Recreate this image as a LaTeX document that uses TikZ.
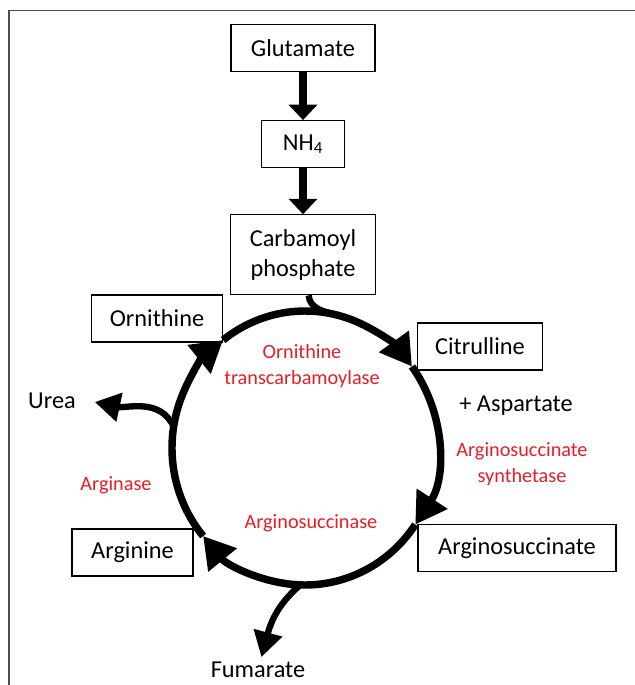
\documentclass[tikz,border=0pt]{standalone}
\usepackage{fontspec}
\setmainfont{Carlito}
\usepackage{tikz}
\usetikzlibrary{positioning,arrows.meta,calc}
\definecolor{enzred}{RGB}{228,30,38}
\tikzset{
  box/.style={rectangle, draw=black!100, line width=0.8pt, minimum height=1.175cm, font=\fontsize{17.3}{21.3}\selectfont},
  metab/.style={font=\fontsize{17.3}{21.3}\selectfont},
  enzyme/.style={text=enzred, align=center, font=\fontsize{14.4}{18.5}\selectfont},
  connect/.style={-{Triangle[width=20pt,length=11pt]}, line width=5pt},
  ring/.style={-{Triangle[width=25pt,length=22pt]}, line width=5.3pt},
  branch/.style={-{Triangle[width=20pt,length=18pt]}, line width=4.5pt}
}

\begin{document}
\begin{tikzpicture}[x=0.025cm, y=0.025cm]
  \useasboundingbox (0,0) rectangle (635,-685);
  \draw[black!70, line width=1.4pt] (9,-685) -- (9,-10.5) -- (635,-10.5);

  \node[box, minimum width=3.6cm] (Glutamate) at (303,-48) {Glutamate};
  \node[box, minimum width=2.075cm] (Ammonium) [below=1.2cm of Glutamate] {NH\textsubscript{4}};
  \node[box, minimum width=3.625cm, minimum height=2cm, align=center] (Carbamoyl) [below=1.15cm of Ammonium] {Carbamoyl\\phosphate};
  \path (Glutamate) edge [connect] (Ammonium);
  \path (Ammonium) edge [connect] (Carbamoyl);

  \node[box, minimum width=3.26cm] (Ornithine) at (157,-318.5) {Ornithine};
  \node[box, minimum width=3.11cm] (Citrulline) at (480,-346.5) {Citrulline};
  \node[box, minimum width=4.95cm] (ArgSucc) at (517,-548) {Arginosuccinate};
  \node[box, minimum width=3.025cm] (Arginine) at (132.5,-552.5) {Arginine};

  \node[metab] (Urea) at (52,-401) {Urea};
  \node[metab] (Aspartate) at (516,-406) {+ Aspartate};
  \node[metab] (Fumarate) at (258,-670) {Fumarate};

  \node[enzyme] (OTC) at (302,-366) {Ornithine\\transcarbamoylase};
  \node[enzyme] (ASS) at (522,-464) {Arginosuccinate\\synthetase};
  \node[enzyme] (ASL) at (311,-523) {Arginosuccinase};
  \node[enzyme] (ARG) at (116,-485) {Arginase};

  % the cycle, clockwise
  \coordinate (Ctr) at (305,-448);
  \draw[ring] (Ctr) ++(220:133 and 137) arc[start angle=220, end angle=128, x radius=133, y radius=137];
  \draw[ring] (Ctr) ++(128:133 and 137) arc[start angle=128, end angle=36.5, x radius=133, y radius=137];
  \draw[ring] (Ctr) ++(36.5:133 and 137) arc[start angle=36.5, end angle=-34, x radius=133, y radius=137];
  \draw[ring] (Ctr) ++(-34:133 and 137) arc[start angle=-34, end angle=-140, x radius=133, y radius=137];

  \coordinate (CarbIn) at ($(Ctr)+(76:133 and 137)$);
  \coordinate (UreaOut) at ($(Ctr)+(171:133 and 137)$);
  \coordinate (UreaTip) at ($(Urea.east)+(14,-1)$);
  \coordinate (FumOut) at ($(Ctr)+(-92:133 and 137)$);
  \draw[line width=4.5pt] ([xshift=4pt]Carbamoyl.south) to[out=-85, in=166] (CarbIn);
  \draw[branch] (UreaOut) to[out=115, in=-12] (UreaTip);
  \draw[branch] (FumOut) to[out=-140, in=75] (Fumarate);
\end{tikzpicture}
\end{document}
